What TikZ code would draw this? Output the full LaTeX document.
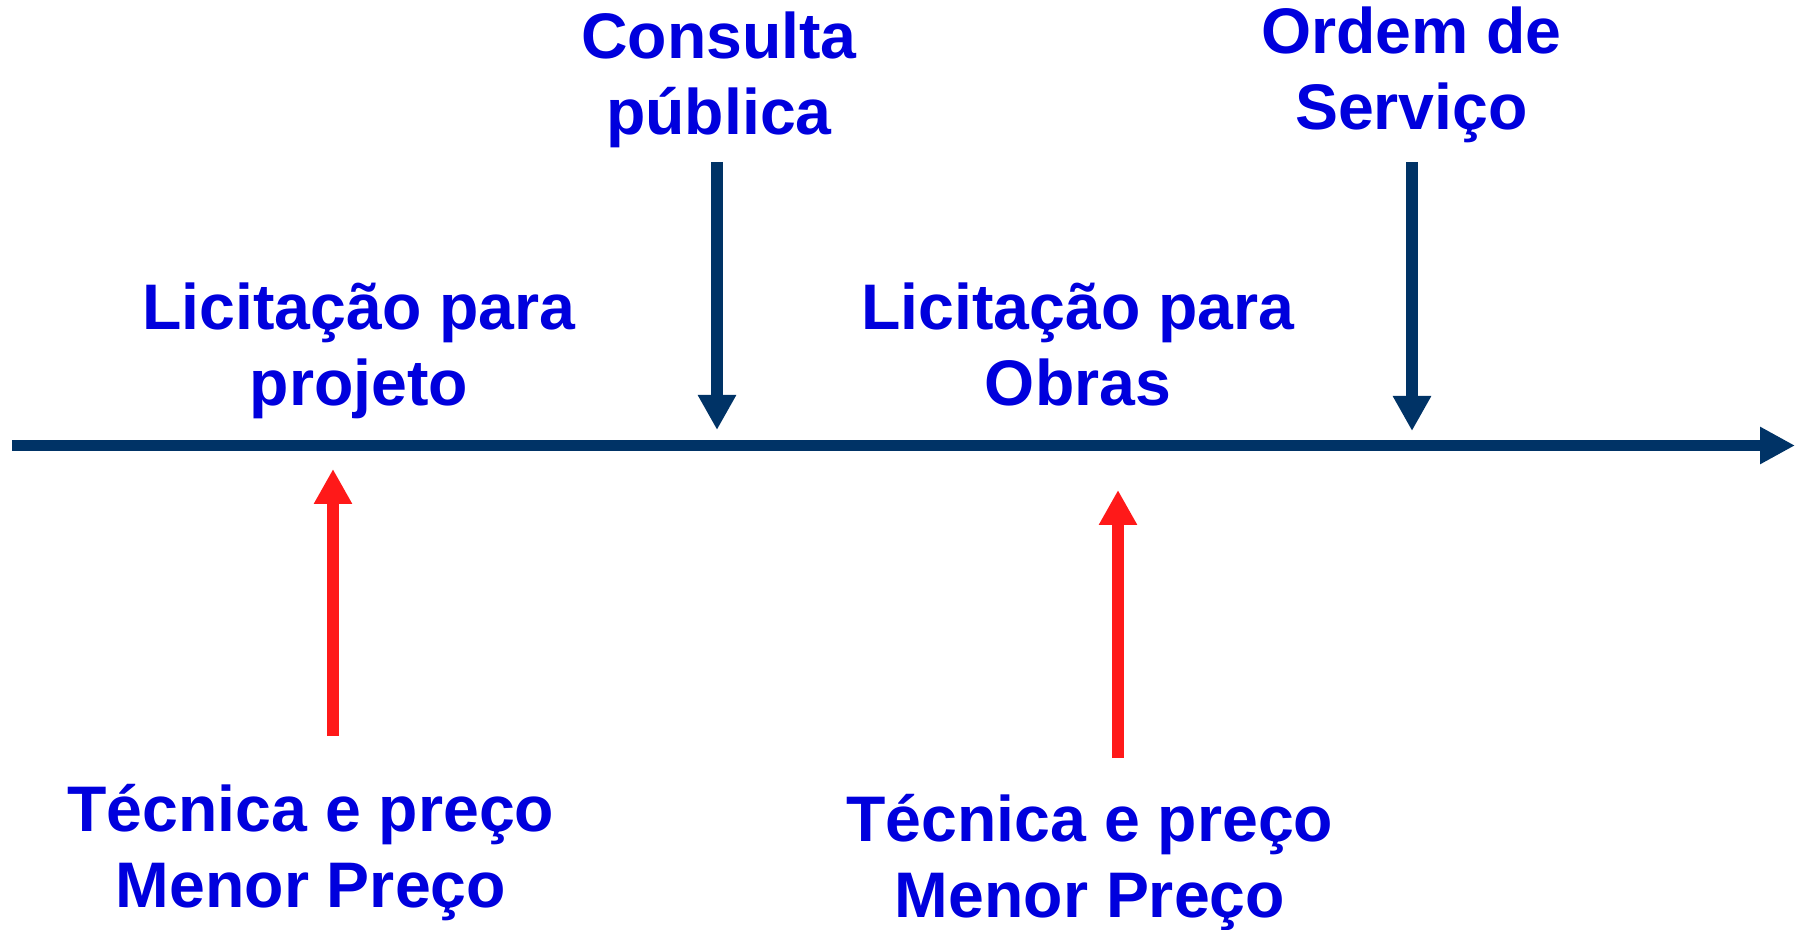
\documentclass[tikz,border=0pt]{standalone}
\usepackage{fontspec}
\setmainfont{Liberation Sans}
\usetikzlibrary{arrows.meta}
\definecolor{txtblue}{RGB}{0,0,221}
\definecolor{navy}{RGB}{0,51,102}
\definecolor{redarrow}{RGB}{255,25,25}
\tikzset{
  lbl/.style={inner sep=0pt, outer sep=0pt, align=center, text=txtblue,
    font=\fontsize{32.2pt}{38pt}\selectfont\bfseries, anchor=base},
  navyarrow/.style={draw=navy, line width=6pt, -{Triangle[length=17.5pt,width=18pt]}},
  redarr/.style={draw=redarrow, line width=6pt, -{Triangle[length=17.5pt,width=18pt]}},
  axis/.style={draw=navy, line width=5.5pt, -{Triangle[length=17.5pt,width=17.5pt]}}
}
\begin{document}
\begin{tikzpicture}[x=0.5pt,y=-0.5pt]
\useasboundingbox (0,0) rectangle (1801,930);
% timeline
\coordinate (t0) at (12,445.5);
\coordinate (t1) at (1795,445.5);
\draw[axis] (t0) -- (t1);
% labels (anchor = baseline of last line)
\node[lbl] (cons) at (719,135) {Consulta\\pública};
\node[lbl] (ordem) at (1411.5,130) {Ordem de\\Serviço};
\node[lbl] (licproj) at (359,406) {Licitação para\\projeto};
\node[lbl] (licobr) at (1078,406) {Licitação para\\Obras};
\node[lbl] (tec1) at (311,907.5) {Técnica e preço\\Menor Preço};
\node[lbl] (tec2) at (1090,917.5) {Técnica e preço\\Menor Preço};
% arrow coordinates
\coordinate (c0) at (717,162);
\coordinate (c1) at (717,430);
\coordinate (o0) at (1412,162);
\coordinate (o1) at (1412,431);
\coordinate (r0) at (333,736);
\coordinate (r1) at (333,469);
\coordinate (s0) at (1118,758);
\coordinate (s1) at (1118,490);
\draw[navyarrow] (c0) -- (c1);
\draw[navyarrow] (o0) -- (o1);
\draw[redarr] (r0) -- (r1);
\draw[redarr] (s0) -- (s1);
\end{tikzpicture}
\end{document}
